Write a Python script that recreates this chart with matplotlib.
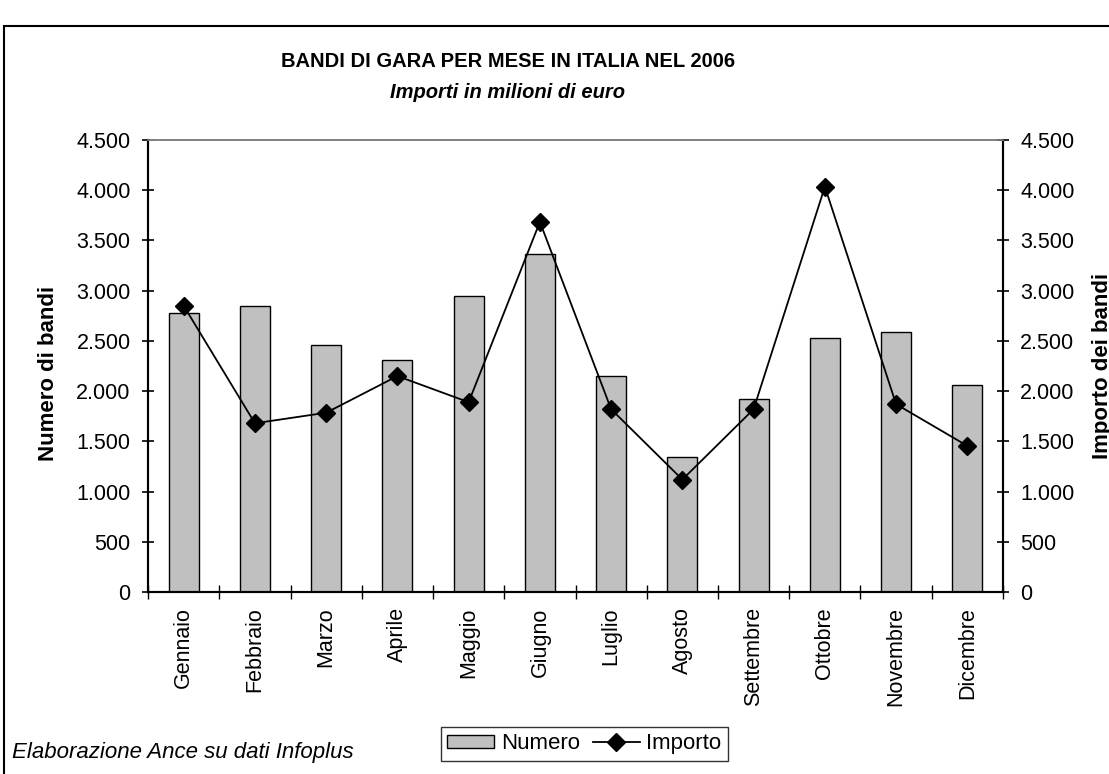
import matplotlib.pyplot as plt
from matplotlib.patches import Rectangle
import numpy as np

# dati
mesi = ['Gennaio', 'Febbraio', 'Marzo', 'Aprile', 'Maggio', 'Giugno',
        'Luglio', 'Agosto', 'Settembre', 'Ottobre', 'Novembre', 'Dicembre']
numero = [2780, 2850, 2460, 2310, 2950, 3370, 2150, 1345, 1925, 2530, 2585, 2060]
importo = [2850, 1680, 1785, 2150, 1890, 3685, 1820, 1120, 1820, 4035, 1870, 1455]
yticks = [0, 500, 1000, 1500, 2000, 2500, 3000, 3500, 4000, 4500]
ytick_labels = ['0', '500', '1.000', '1.500', '2.000', '2.500', '3.000', '3.500', '4.000', '4.500']

plt.rcParams['font.family'] = ['Liberation Sans', 'DejaVu Sans']

fig = plt.figure(figsize=(11.09, 7.74), dpi=100)
ax = fig.add_axes([0.1335, 0.2351, 0.9044 - 0.1335, 0.8191 - 0.2351])
ax2 = ax.twinx()

x = np.arange(len(mesi))
ax.bar(x, numero, width=0.42, color='#c0c0c0', edgecolor='black', linewidth=1.0,
       label='Numero', zorder=2)
ax2.plot(x, importo, color='black', linewidth=1.3, marker='D', markersize=9,
         label='Importo', zorder=3)

for a in (ax, ax2):
    a.set_ylim(0, 4500)
    a.set_yticks(yticks)
    a.set_yticklabels(ytick_labels, fontsize=15.5)
    a.tick_params(axis='y', direction='inout', length=9, width=1.2, pad=8)
ax.set_xlim(-0.5, len(mesi) - 0.5)

# tick tra le categorie, etichette al centro
ax.set_xticks(np.arange(-0.5, len(mesi), 1.0))
ax.set_xticklabels([])
ax.set_xticks(x, minor=True)
ax.set_xticklabels(mesi, minor=True, rotation=90, fontsize=15.5)
ax.tick_params(axis='x', which='major', direction='inout', length=10, width=1.0)
ax.tick_params(axis='x', which='minor', length=0, pad=11)

for a in (ax, ax2):
    a.spines['left'].set_linewidth(1.5)
    a.spines['right'].set_linewidth(1.5)
    a.spines['bottom'].set_linewidth(1.5)
    a.spines['top'].set_color('#808080')
    a.spines['top'].set_linewidth(1.2)
ax2.set_zorder(ax.get_zorder() + 1)
ax2.patch.set_visible(False)

fig.text(0.0433, 0.518, 'Numero di bandi', rotation=90, ha='center', va='center',
         fontsize=16, fontweight='bold')
fig.text(0.9945, 0.5271, 'Importo dei bandi', rotation=90, ha='center', va='center',
         fontsize=16, fontweight='bold')

fig.text(0.458, 0.921, 'BANDI DI GARA PER MESE IN ITALIA NEL 2006', ha='center',
         va='center', fontsize=14.5, fontweight='bold')
fig.text(0.458, 0.880, 'Importi in milioni di euro', ha='center', va='center',
         fontsize=14.5, fontweight='bold', style='italic')

fig.text(0.011, 0.028, 'Elaborazione Ance su dati Infoplus', ha='left', va='center',
         fontsize=16, style='italic')

# riquadro esterno
fig.patches.append(Rectangle((0.004, -0.05), 1.1, 1.05 - 0.0332, transform=fig.transFigure,
                             fill=False, edgecolor='black', linewidth=1.5))

h1, l1 = ax.get_legend_handles_labels()
h2, l2 = ax2.get_legend_handles_labels()
leg = fig.legend(h1 + h2, l1 + l2, loc='center', bbox_to_anchor=(0.527, 0.039), ncol=2,
                 fontsize=16, frameon=True, fancybox=False, edgecolor='black',
                 handlelength=2.1, handleheight=0.55, handletextpad=0.3,
                 columnspacing=0.6, borderpad=0.3)
leg.get_frame().set_linewidth(1.0)

fig.savefig('out.png', dpi=100)
